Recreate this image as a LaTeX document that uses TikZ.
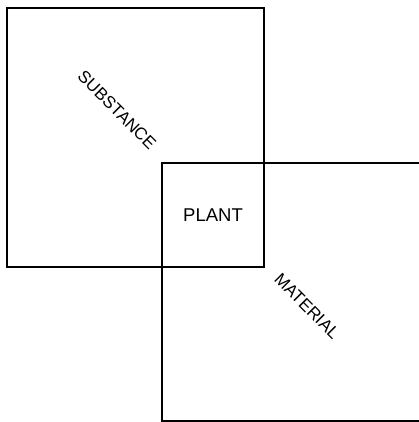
\documentclass[tikz,border=0pt]{standalone}
\usepackage{fontspec}
\setmainfont{Liberation Sans}
\begin{document}
\begin{tikzpicture}[x=1pt,y=-1pt,
  boxline/.style={draw=black,line width=1.3pt},
  lbl/.style={font=\fontsize{17}{20}\selectfont,inner sep=0pt}]
\useasboundingbox (0,0) rectangle (418,422);
\coordinate (s1) at (7,8);
\coordinate (s2) at (264,267);
\coordinate (m1) at (162,163);
\coordinate (m2) at (420,421);
\draw[boxline] (s1) rectangle (s2);
\draw[boxline] (m1) rectangle (m2);
\node[lbl,rotate=-45] (substance) at (117,110) {SUBSTANCE};
\node[lbl,rotate=-45] (material) at (307,306) {MATERIAL};
\node[lbl,font=\fontsize{18.5}{22}\selectfont] (plant) at (213,215.5) {PLANT};
\end{tikzpicture}
\end{document}
